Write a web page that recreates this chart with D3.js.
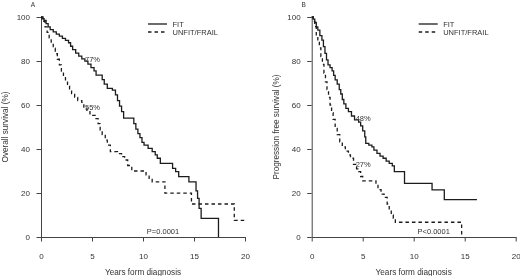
<!DOCTYPE html>
<html lang="en">
<head>
<meta charset="UTF-8">
<title>Survival by fitness</title>
<script src="https://d3js.org/d3.v7.min.js"></script>
<style>
  body { margin: 0; background: #fff; }
  svg { display: block; font-family: "Liberation Sans", Arial, sans-serif; will-change: transform; }
  .axis path, .axis line { stroke: #444; stroke-width: 1; }
  .axis text { fill: #333; font-size: 8px; }
</style>
</head>
<body>
<div id="chart"></div>
<script>
// panel A - overall survival, step times (years) and survival (%) after each step
const osFitT = [0, 0.1, 0.3, 0.5, 0.7, 0.9, 1.2, 1.5, 1.8, 2.1, 2.4, 2.7, 2.9, 3.1, 3.4, 3.7, 4.0, 4.3, 4.6, 4.9, 5.2, 5.4, 6.0, 6.2, 6.5, 7.0, 7.3, 7.5, 7.7, 7.9, 8.1, 9.1, 9.3, 9.5, 9.7, 9.9, 10.1, 10.5, 10.9, 11.2, 11.4, 11.7, 12.9, 13.2, 13.5, 14.5, 15.2, 15.35, 15.5, 15.7, 17.4];
const osFitS = [100, 99.2, 98.4, 97.0, 95.5, 94.3, 93.2, 92.2, 91.3, 90.3, 89.4, 88.3, 86.7, 85.2, 83.6, 82.2, 81.0, 79.9, 78.6, 77.0, 75.5, 73.6, 71.5, 69.5, 67.6, 66.8, 64.6, 62.0, 59.5, 57.0, 54.0, 51.5, 49.0, 47.0, 45.2, 43.0, 41.8, 40.3, 38.8, 37.3, 35.8, 33.5, 31.2, 29.7, 27.4, 25.1, 21.0, 17.6, 13.0, 8.5, 0];
const osUnfitT = [0, 0.2, 0.4, 0.6, 0.8, 1.0, 1.2, 1.4, 1.6, 1.8, 2.0, 2.2, 2.4, 2.6, 2.8, 3.0, 3.3, 3.6, 4.0, 4.2, 4.5, 4.8, 5.3, 5.6, 5.8, 6.0, 6.3, 6.5, 6.8, 7.5, 7.9, 8.2, 8.5, 8.9, 10.3, 10.6, 10.9, 12.15, 14.75, 18.95, 20];
const osUnfitS = [100, 98, 95.5, 93, 90.5, 88.2, 85.8, 83.3, 80.8, 78.2, 75.4, 73.0, 70.8, 68.6, 66.8, 65.2, 63.5, 62.0, 61.2, 59.0, 57.0, 55.3, 53.8, 51.5, 48.6, 46.5, 44.0, 41.8, 38.8, 37.9, 36.5, 35.0, 32.5, 30.0, 28.2, 26.7, 25.1, 19.9, 15.0, 7.6, 7.6];

// panel B - progression free survival
const pfsFitT = [0, 0.15, 0.3, 0.45, 0.6, 0.8, 1.0, 1.15, 1.3, 1.45, 1.6, 1.8, 2.0, 2.15, 2.3, 2.5, 2.7, 2.85, 3.0, 3.15, 3.35, 3.6, 3.9, 4.2, 4.6, 4.8, 5.0, 5.2, 5.3, 5.6, 5.9, 6.1, 6.4, 6.7, 7.0, 7.3, 7.6, 7.9, 8.1, 9.1, 11.8, 13.0, 16.2];
const pfsFitS = [100, 99, 97.5, 95.5, 94, 91.5, 89.5, 86.5, 83.5, 80.5, 78.2, 77, 75.5, 73.5, 71.4, 69.5, 67, 65, 62.5, 60.5, 58.5, 57, 55, 53.2, 52.2, 50.5, 48.2, 45.5, 42.6, 41.8, 41.0, 39.5, 38.0, 36.8, 35.8, 34.5, 33.5, 32.3, 29.7, 24.4, 21.4, 17.0, 17.0];
const pfsUnfitT = [0, 0.15, 0.3, 0.45, 0.6, 0.75, 0.9, 1.05, 1.2, 1.35, 1.5, 1.65, 1.8, 1.95, 2.1, 2.3, 2.5, 2.75, 3.0, 3.3, 3.6, 3.8, 4.1, 4.4, 4.6, 4.8, 5.0, 6.3, 6.5, 6.8, 7.1, 7.4, 7.6, 7.8, 8.0, 8.2, 14.7];
const pfsUnfitS = [100, 98, 95.6, 91.5, 89, 86, 82, 78.5, 74.5, 70.5, 67, 63.5, 60, 56.5, 53.5, 49.4, 46.5, 43.3, 41, 39, 37.3, 35.8, 33, 31, 29.7, 27.5, 25.5, 23.5, 21.5, 19.5, 18.0, 15, 12.5, 10, 8.5, 6.7, 0];

const xTicks = [0, 5, 10, 15, 20];
const yTicks = [0, 20, 40, 60, 80, 100];
const seriesNames = ["FIT", "UNFIT/FRAIL"];

const panels = [
  { tag: "A", left: 41, ytitle: "Overall survival (%)", p: "P=0.0001", lift: 8.5,
    fit: [osFitT, osFitS], unfit: [osUnfitT, osUnfitS], notes: [["77%", 5, 77], ["55%", 5, 55]] },
  { tag: "B", left: 311.7, ytitle: "Progression free survival (%)", p: "P<0.0001", lift: 13,
    fit: [pfsFitT, pfsFitS], unfit: [pfsUnfitT, pfsUnfitS], notes: [["48%", 5, 48], ["27%", 5, 27]] }
];

const svg = d3.select("#chart").append("svg")
  .attr("width", 520)
  .attr("height", 276);

const y = d3.scaleLinear().domain([0, 100]).range([237, 17]);

const line = (x) => d3.line()
  .x(d => x(d[0]))
  .y(d => y(d[1]))
  .curve(d3.curveStepAfter);

panels.forEach(pn => {
  const x = d3.scaleLinear().domain([0, 20]).range([pn.left, pn.left + 204]);
  const g = svg.append("g");

  g.append("g").attr("class", "axis")
    .attr("transform", "translate(0,237)")
    .call(d3.axisBottom(x).tickValues(xTicks).tickSize(4.5).tickSizeOuter(0).tickPadding(11.5));

  g.append("g").attr("class", "axis")
    .attr("transform", `translate(${pn.left},0)`)
    .call(d3.axisLeft(y).tickValues(yTicks).tickSize(4.5).tickSizeOuter(0).tickPadding(6.5));

  const curves = [[pn.fit, null], [pn.unfit, "3.5,3"]];
  curves.forEach(([c, dash]) => {
    const pts = c[0].map((t, i) => [t, c[1][i]]);
    g.append("path")
      .attr("d", line(x)(pts))
      .attr("fill", "none")
      .attr("stroke", "#1c1c1c")
      .attr("stroke-width", 1.3)
      .attr("stroke-dasharray", dash);
  });

  // survival at 5 years, written just above the curves
  pn.notes.forEach(n => {
    g.append("text")
      .attr("x", x(n[1]) + 0.5)
      .attr("y", y(n[2]) - pn.lift + 2.7)
      .attr("text-anchor", "middle")
      .attr("font-size", 7.5)
      .attr("fill", "#333")
      .text(n[0]);
  });

  g.append("text")
    .attr("x", x(0) + 122)
    .attr("y", 234)
    .attr("text-anchor", "middle")
    .attr("font-size", 7.5)
    .attr("fill", "#333")
    .text(pn.p);

  // legend
  const lx = pn.left + 107;
  seriesNames.forEach((name, i) => {
    const ly = 24 + i * 8;
    g.append("line")
      .attr("x1", lx).attr("x2", lx + 19)
      .attr("y1", ly).attr("y2", ly)
      .attr("stroke", "#1c1c1c")
      .attr("stroke-width", 1.3)
      .attr("stroke-dasharray", i ? "3.5,3" : null);
    g.append("text")
      .attr("x", lx + 24.5)
      .attr("y", ly + 2.8)
      .attr("font-size", 7.5)
      .attr("fill", "#333")
      .text(name);
  });

  g.append("text")
    .attr("x", pn.left - 8)
    .attr("y", 7)
    .attr("text-anchor", "middle")
    .attr("font-size", 6.5)
    .attr("fill", "#333")
    .text(pn.tag);

  g.append("text")
    .attr("x", x(10))
    .attr("y", 274.5)
    .attr("text-anchor", "middle")
    .attr("font-size", 8.2)
    .attr("fill", "#333")
    .text("Years form diagnosis");

  g.append("text")
    .attr("transform", `translate(${pn.left - 33},127) rotate(-90)`)
    .attr("text-anchor", "middle")
    .attr("font-size", 8.2)
    .attr("fill", "#333")
    .text(pn.ytitle);
});
</script>
</body>
</html>
